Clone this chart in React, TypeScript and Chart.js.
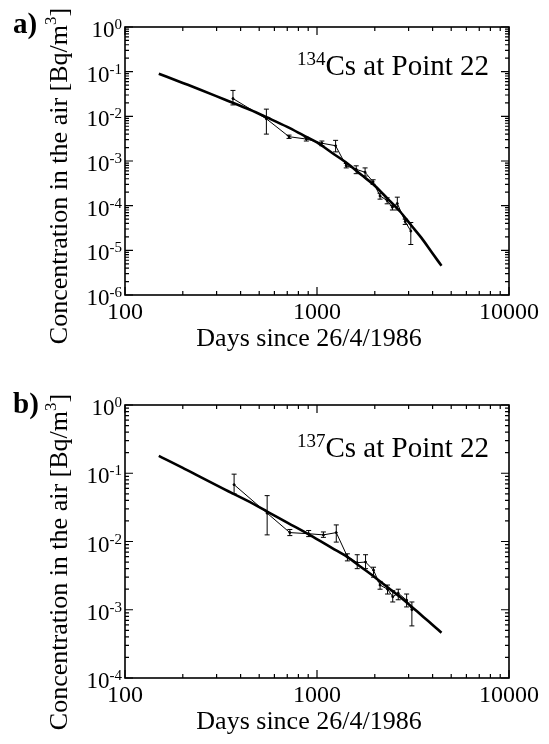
import React, { useEffect, useRef } from "react";
import { Chart, registerables } from "chart.js";

Chart.register(...registerables);

// ---------- DATA ----------
// Panel a) 134Cs at Point 22
const daysA = [365, 545, 715, 880, 1060, 1250, 1420, 1600, 1780, 1960, 2130, 2320, 2470, 2620, 2880, 3080];
const concA = [0.025, 0.0088, 0.0035, 0.0031, 0.0025, 0.0022, 0.00078, 0.00065, 0.00056, 0.00034, 0.000165, 0.00013, 0.000092, 0.000112, 0.000044, 0.000027];
const errHiA = [0.038, 0.0145, 0.0038, 0.0034, 0.0028, 0.0029, 0.00088, 0.00078, 0.0007, 0.00038, 0.00019, 0.00015, 0.0001, 0.000155, 0.00005, 0.000042];
const errLoA = [0.018, 0.004, 0.0032, 0.0028, 0.0022, 0.0016, 0.0007, 0.00052, 0.00046, 0.0003, 0.00014, 0.00011, 0.00008, 0.00008, 0.000038, 0.0000135];
const fitDaysA = [150, 200, 245, 330, 448, 550, 700, 850, 1000, 1200, 1440, 1700, 2000, 2350, 2700, 3100, 3500, 3950, 4450];
const fitConcA = [0.09, 0.056, 0.04, 0.0238, 0.014, 0.0094, 0.0058, 0.00375, 0.0026, 0.00151, 0.00088, 0.00049, 0.00028, 0.000138, 0.000075, 0.000036, 0.000019, 0.0000092, 0.0000045];

// Panel b) 137Cs at Point 22
const daysB = [370, 550, 722, 905, 1080, 1260, 1440, 1620, 1790, 1970, 2130, 2330, 2480, 2650, 2930, 3120];
const concB = [0.068, 0.026, 0.0135, 0.013, 0.0125, 0.0135, 0.006, 0.0049, 0.005, 0.0038, 0.0023, 0.002, 0.00155, 0.00175, 0.00138, 0.001];
const errHiB = [0.097, 0.047, 0.015, 0.0145, 0.0138, 0.0175, 0.0066, 0.0064, 0.0064, 0.0042, 0.0026, 0.0023, 0.0019, 0.002, 0.0017, 0.0013];
const errLoB = [0.05, 0.0125, 0.0122, 0.0118, 0.0115, 0.0098, 0.0052, 0.004, 0.004, 0.003, 0.002, 0.0017, 0.0013, 0.0014, 0.0011, 0.00058];
const fitDaysB = [150, 200, 245, 330, 430, 550, 700, 920, 1200, 1430, 1700, 2000, 2350, 2700, 3100, 3500, 3950, 4450];
const fitConcB = [0.18, 0.12, 0.089, 0.058, 0.04, 0.0275, 0.0189, 0.0124, 0.008, 0.006, 0.0042, 0.003, 0.0021, 0.00155, 0.00112, 0.00083, 0.00062, 0.00046];

const xTickValues = [100, 1000, 10000];
const xTickLabels = ["100", "1000", "10000"];
const xTitle = "Days since 26/4/1986";
const yTitleMain = "Concentration in the air [Bq/m";
const yTitleSup = "3";
const yTitleEnd = "]";
const annotationText = "Cs at Point 22";

const SERIF = '"Liberation Serif", "Times New Roman", Times, serif';

type PanelCfg = {
  tag: string;
  iso: string;
  days: number[];
  conc: number[];
  hi: number[];
  lo: number[];
  fitDays: number[];
  fitConc: number[];
  yMinExp: number;
  yMaxExp: number;
  padTop: number;
  padBottom: number;
  titleCenterY: number;
  tagBaseline: number;
  annBaseline: number;
};

const panels: PanelCfg[] = [
  {
    tag: "a)", iso: "134", days: daysA, conc: concA, hi: errHiA, lo: errLoA,
    fitDays: fitDaysA, fitConc: fitConcA, yMinExp: -6, yMaxExp: 0,
    padTop: 27, padBottom: 77, titleCenterY: 176, tagBaseline: 33, annBaseline: 75,
  },
  {
    tag: "b)", iso: "137", days: daysB, conc: concB, hi: errHiB, lo: errLoB,
    fitDays: fitDaysB, fitConc: fitConcB, yMinExp: -4, yMaxExp: 0,
    padTop: 33, padBottom: 66, titleCenterY: 190, tagBaseline: 41, annBaseline: 85,
  },
];

const framePlugin = {
  id: "frame",
  afterDatasetsDraw(chart: any, _args: any, o: any) {
    const { ctx, chartArea: a } = chart;
    const xs = chart.scales.x;
    const ys = chart.scales.y;
    ctx.save();
    ctx.strokeStyle = "#000";
    ctx.fillStyle = "#000";

    // error bars
    ctx.lineWidth = 1;
    const cap = 2.5;
    o.days.forEach((d: number, i: number) => {
      const px = xs.getPixelForValue(d);
      const pHi = ys.getPixelForValue(o.hi[i]);
      const pLo = ys.getPixelForValue(o.lo[i]);
      ctx.beginPath();
      ctx.moveTo(px, pHi);
      ctx.lineTo(px, pLo);
      ctx.moveTo(px - cap, pHi);
      ctx.lineTo(px + cap, pHi);
      ctx.moveTo(px - cap, pLo);
      ctx.lineTo(px + cap, pLo);
      ctx.stroke();
    });

    // frame box
    ctx.lineWidth = 1.6;
    ctx.strokeRect(a.left, a.top, a.right - a.left, a.bottom - a.top);

    // x ticks (inward, both sides)
    ctx.lineWidth = 1.2;
    for (let e = 2; e <= 4; e++) {
      for (let m = 1; m <= 9; m++) {
        const v = m * Math.pow(10, e);
        if (v > 10000) break;
        const px = xs.getPixelForValue(v);
        const len = m === 1 ? 8 : 4;
        ctx.beginPath();
        ctx.moveTo(px, a.bottom);
        ctx.lineTo(px, a.bottom - len);
        ctx.moveTo(px, a.top);
        ctx.lineTo(px, a.top + len);
        ctx.stroke();
      }
    }
    // y ticks (inward, both sides)
    for (let e = o.yMinExp; e <= o.yMaxExp; e++) {
      for (let m = 1; m <= 9; m++) {
        const v = m * Math.pow(10, e);
        if (v > Math.pow(10, o.yMaxExp) * 1.0001) break;
        const py = ys.getPixelForValue(v);
        const len = m === 1 ? 8 : 4;
        ctx.beginPath();
        ctx.moveTo(a.left, py);
        ctx.lineTo(a.left + len, py);
        ctx.moveTo(a.right, py);
        ctx.lineTo(a.right - len, py);
        ctx.stroke();
      }
    }

    // x tick labels
    ctx.font = `24px ${SERIF}`;
    ctx.textAlign = "center";
    ctx.textBaseline = "alphabetic";
    xTickValues.forEach((v, i) => {
      ctx.fillText(xTickLabels[i], xs.getPixelForValue(v), a.bottom + 24);
    });

    // y tick labels 10^n
    for (let e = o.yMinExp; e <= o.yMaxExp; e++) {
      const py = ys.getPixelForValue(Math.pow(10, e));
      const sup = e === 0 ? "0" : "-" + String(-e);
      ctx.font = `15px ${SERIF}`;
      const wSup = ctx.measureText(sup).width;
      ctx.textAlign = "left";
      const right = a.left - 3;
      ctx.fillText(sup, right - wSup, py + 2);
      ctx.font = `23px ${SERIF}`;
      ctx.textAlign = "right";
      ctx.fillText("10", right - wSup, py + 10);
    }

    // x title
    ctx.font = `26px ${SERIF}`;
    ctx.textAlign = "center";
    ctx.fillText(xTitle, (a.left + a.right) / 2 - 8, a.bottom + 51);

    // y title (rotated, with superscript)
    ctx.save();
    ctx.translate(67, o.titleCenterY);
    ctx.rotate(-Math.PI / 2);
    ctx.textAlign = "left";
    ctx.font = `26px ${SERIF}`;
    const wMain = ctx.measureText(yTitleMain).width;
    const wEnd = ctx.measureText(yTitleEnd).width;
    ctx.font = `17px ${SERIF}`;
    const wS = ctx.measureText(yTitleSup).width;
    const x0 = -(wMain + wS + wEnd) / 2;
    ctx.font = `26px ${SERIF}`;
    ctx.fillText(yTitleMain, x0, 0);
    ctx.fillText(yTitleEnd, x0 + wMain + wS, 0);
    ctx.font = `17px ${SERIF}`;
    ctx.fillText(yTitleSup, x0 + wMain, -11);
    ctx.restore();

    // panel tag
    ctx.font = `bold 29px ${SERIF}`;
    ctx.textAlign = "left";
    ctx.fillText(o.tag, 13, o.tagBaseline);

    // annotation
    ctx.font = `29px ${SERIF}`;
    ctx.textAlign = "right";
    const annRight = a.right - 20;
    const wAnn = ctx.measureText(annotationText).width;
    ctx.fillText(annotationText, annRight, o.annBaseline);
    ctx.font = `19px ${SERIF}`;
    ctx.fillText(o.iso, annRight - wAnn, o.annBaseline - 10);

    ctx.restore();
  },
};

function ChartPanel({ p }: { p: PanelCfg }) {
  const ref = useRef<HTMLCanvasElement>(null);
  useEffect(() => {
    const chart = new Chart(ref.current as HTMLCanvasElement, {
      type: "scatter",
      data: {
        datasets: [
          {
            data: p.fitDays.map((d, i) => ({ x: d, y: p.fitConc[i] })),
            showLine: true,
            borderColor: "#000",
            borderWidth: 2.6,
            pointRadius: 0,
            cubicInterpolationMode: "monotone",
          } as any,
          {
            data: p.days.map((d, i) => ({ x: d, y: p.conc[i] })),
            showLine: true,
            borderColor: "#000",
            backgroundColor: "#000",
            borderWidth: 1,
            pointRadius: 1,
          } as any,
        ],
      },
      options: {
        animation: false,
        responsive: false,
        devicePixelRatio: 1,
        events: [],
        layout: { padding: { left: 125, right: 40, top: p.padTop, bottom: p.padBottom } },
        scales: {
          x: { type: "logarithmic", min: 100, max: 10000, display: false },
          y: { type: "logarithmic", min: Math.pow(10, p.yMinExp), max: Math.pow(10, p.yMaxExp), display: false },
        },
        plugins: {
          legend: { display: false },
          tooltip: { enabled: false },
          frame: {
            days: p.days, hi: p.hi, lo: p.lo, yMinExp: p.yMinExp, yMaxExp: p.yMaxExp,
            titleCenterY: p.titleCenterY, tag: p.tag, tagBaseline: p.tagBaseline,
            iso: p.iso, annBaseline: p.annBaseline,
          },
        } as any,
      },
      plugins: [framePlugin],
    });
    return () => chart.destroy();
  }, [p]);
  return <canvas ref={ref} width={549} height={372} style={{ display: "block", width: 549, height: 372 }} />;
}

export default function App() {
  return (
    <div style={{ position: "absolute", left: 0, top: 0, width: 549, height: 744, background: "#fff" }}>
      {panels.map((p) => (
        <ChartPanel key={p.tag} p={p} />
      ))}
    </div>
  );
}
